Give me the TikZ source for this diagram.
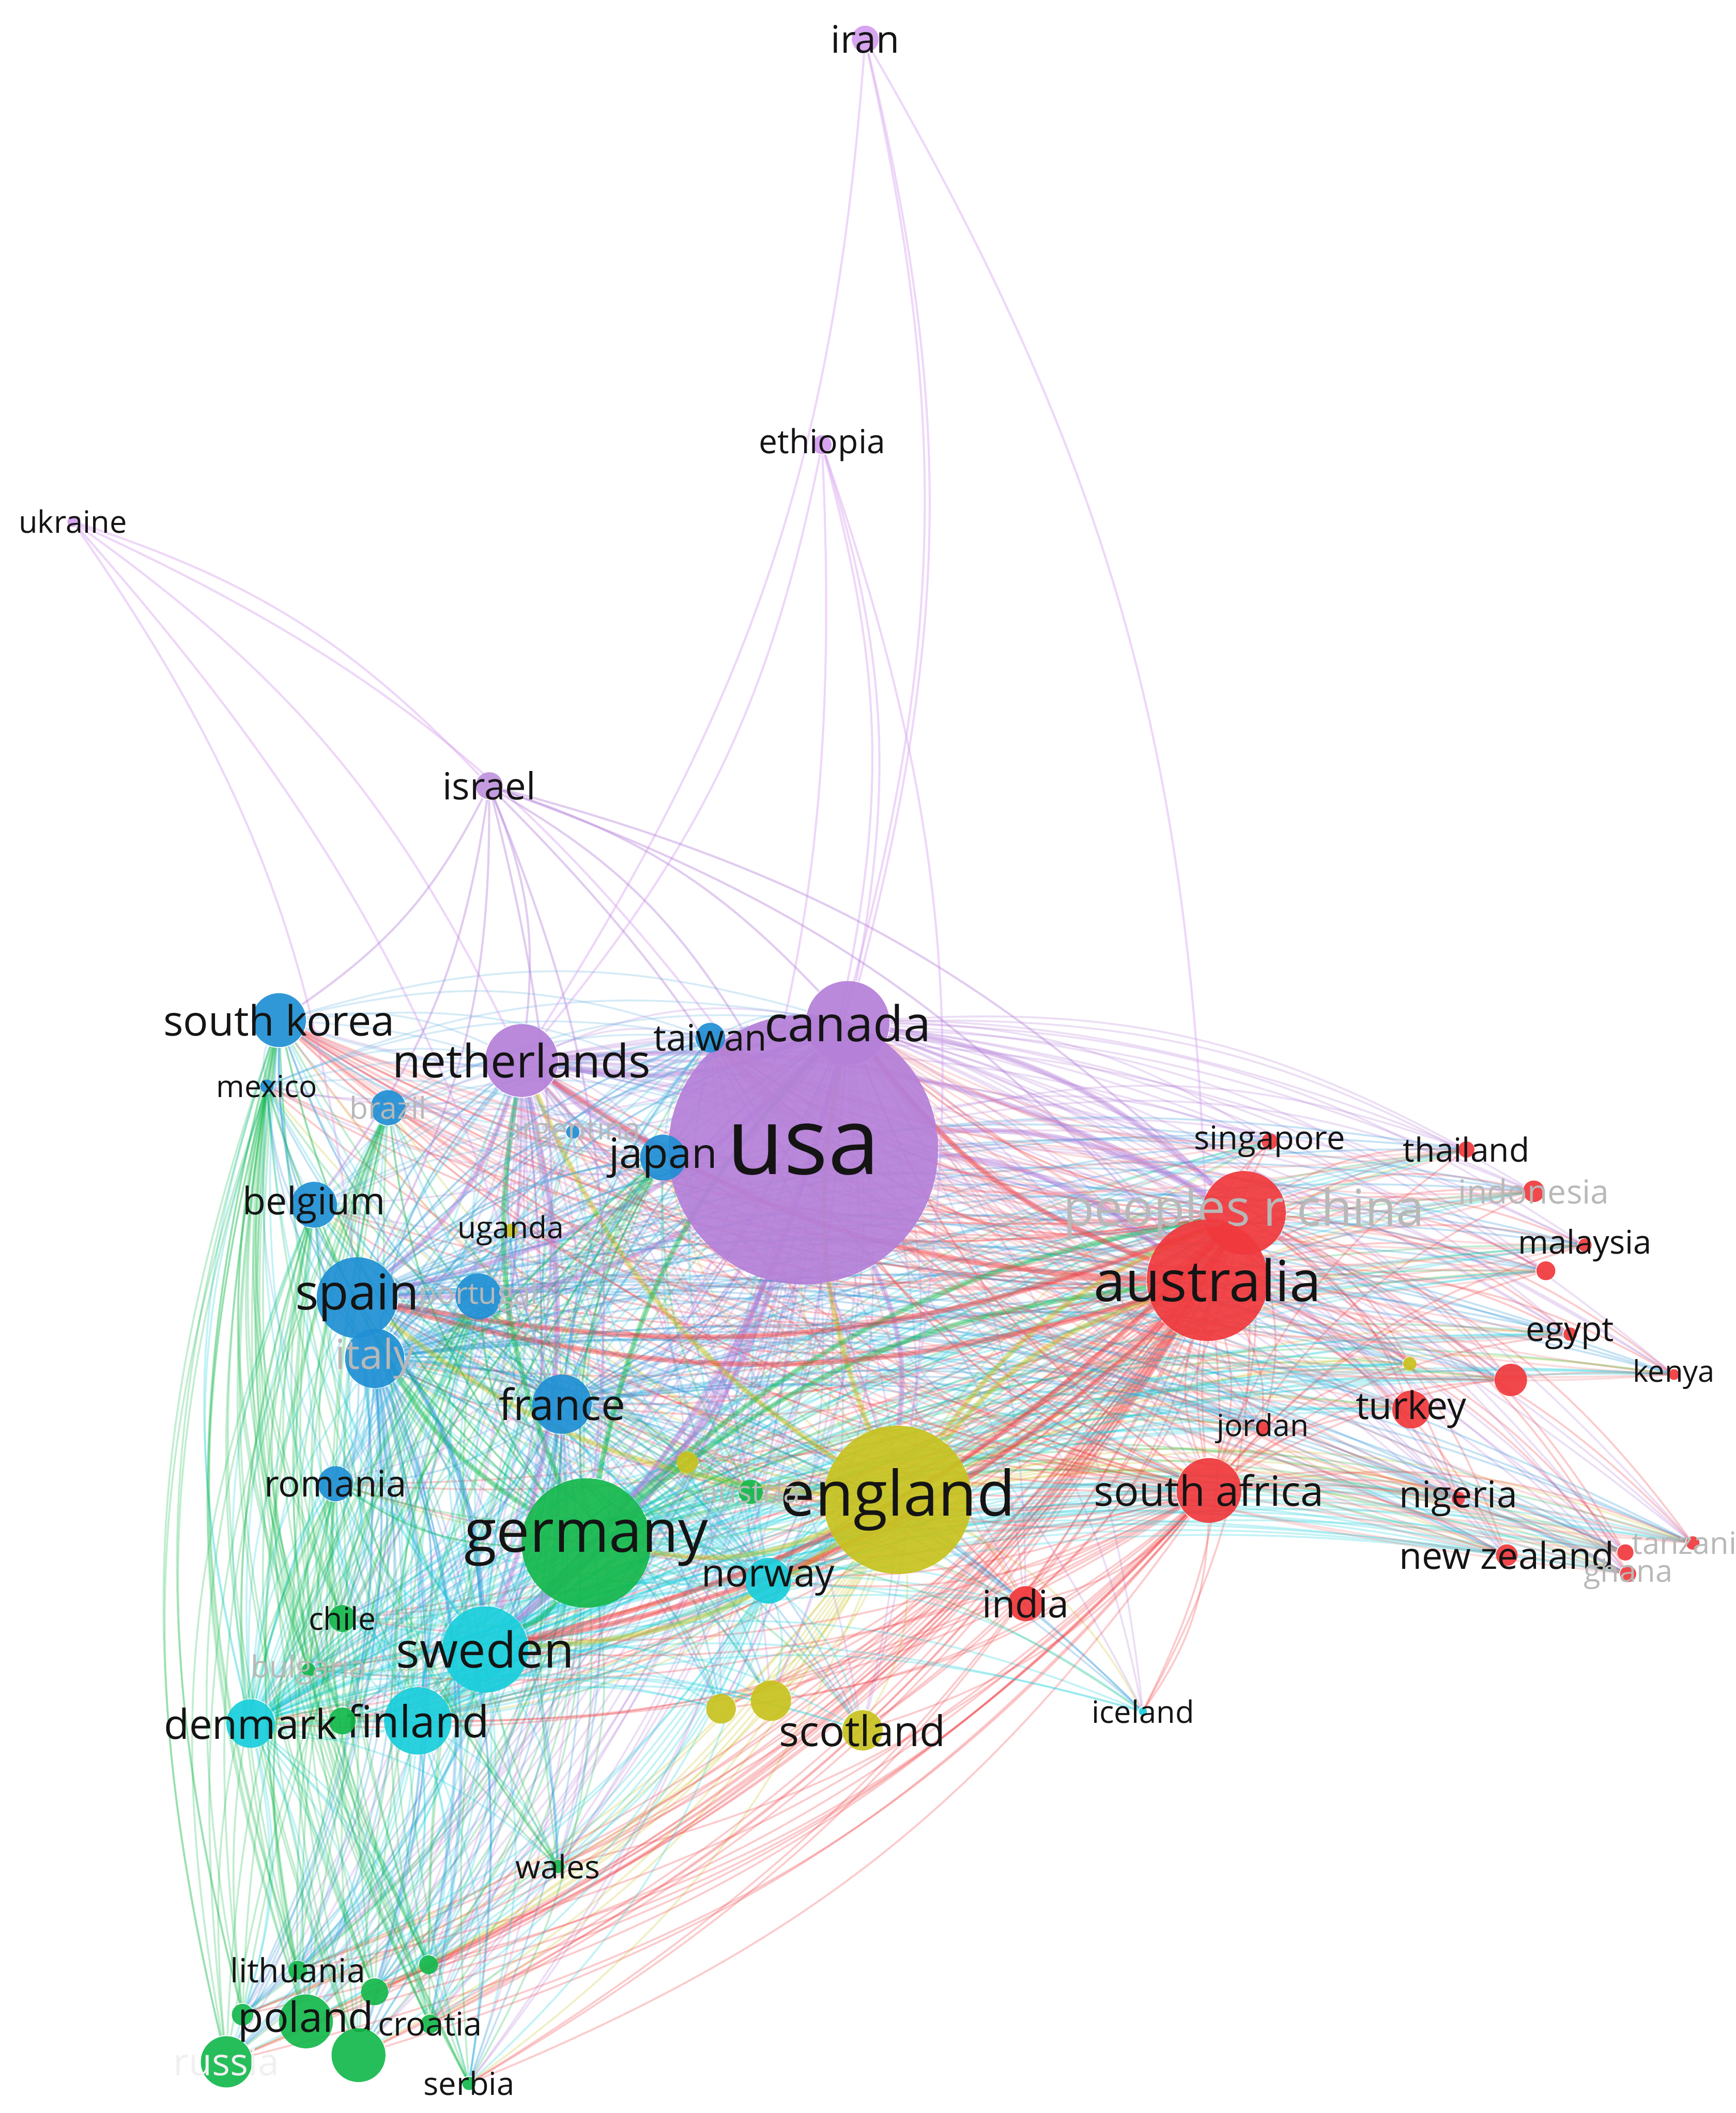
\documentclass[tikz,border=0pt]{standalone}
\usepackage{fontspec}
\setmainfont{Open Sans}

\definecolor{vred}{HTML}{F0383C}
\definecolor{vgreen}{HTML}{14B84C}
\definecolor{vblue}{HTML}{1F8FD4}
\definecolor{vyellow}{HTML}{C8C21E}
\definecolor{vpurple}{HTML}{B47FD8}
\definecolor{vlav}{HTML}{D49CEE}
\definecolor{vcyan}{HTML}{18CEDC}

\pgfdeclarelayer{aristas}
\pgfsetlayers{aristas,main}

\tikzset{
  nd/.style={circle, fill=#1, fill opacity=0.92, text opacity=1, draw=none, inner sep=0pt},
  sz/.style={minimum size=#1*0.2845pt},
  lbl/.style={font=\fontsize{#1pt}{#1pt}\selectfont, text=black!92, inner sep=0pt},
  flbl/.style={font=\fontsize{#1pt}{#1pt}\selectfont, text=black!28, inner sep=0pt},
  lk/.style={draw=#1, opacity=0.26, line width=0.4pt},
  lkg/.style={draw=#1, opacity=0.42, line width=1.1pt},
  lkp/.style={draw=#1, opacity=0.4, line width=0.45pt}
}

\begin{document}
\begin{tikzpicture}[x=0.01cm, y=-0.01cm]
  \useasboundingbox (0,0) rectangle (1288,1568);

  % nodos grandes
  \node[nd=vpurple, sz=200, label={[lbl=19.6]center:usa}] (usa) at (596,853) {};
  \node[nd=vyellow, sz=110, label={[lbl=13.2]center:england}] (england) at (666,1113) {};
  \node[nd=vgreen, sz=96, label={[lbl=12.5]center:germany}] (germany) at (435,1145) {};
  \node[nd=vred, sz=62, label={[flbl=10.7]center:peoples r china}] (china) at (923,900) {};
  \node[nd=vred, sz=90, label={[lbl=12]center:australia}] (australia) at (896,950) {};
  \node[nd=vpurple, sz=62, label={[lbl=10.4]center:canada}] (canada) at (629,759) {};
  \node[nd=vpurple, sz=54, label={[lbl=9.7]center:netherlands}] (netherlands) at (387,787) {};
  \node[nd=vcyan, sz=64, label={[lbl=10.4]center:sweden}] (sweden) at (360,1224) {};
  \node[nd=vblue, sz=60, label={[lbl=10.4]center:spain}] (spain) at (265,963) {};
  \node[nd=vcyan, sz=50, label={[lbl=9.3]center:finland}] (finland) at (310,1277) {};
  \node[nd=vred, sz=48, label={[lbl=8.8]center:south africa}] (safrica) at (897,1106) {};
  \node[nd=vblue, sz=44, label={[lbl=9.1]center:france}] (france) at (417,1042) {};
  \node[nd=vblue, sz=44, label={[flbl=8.7]center:italy}] (italy) at (278,1008) {};

  % grupo azul
  \node[nd=vblue, sz=40, label={[lbl=8.8]center:south korea}] (skorea) at (207,757) {};
  \node[nd=vblue, sz=22, label={[lbl=7.7]center:taiwan}] (taiwan) at (527,770) {};
  \node[nd=vblue, sz=10, label={[lbl=6.4]center:mexico}] (mexico) at (198,806) {};
  \node[nd=vblue, sz=26, label={[flbl=6.4]center:brazil}] (brazil) at (288,822) {};
  \node[nd=vblue, sz=10, label={[flbl=6.4]center:argentina}] (argentina) at (425,840) {};
  \node[nd=vblue, sz=34, label={[lbl=8.8]center:japan}] (japan) at (492,859) {};
  \node[nd=vblue, sz=34, label={[flbl=6.4]center:portugal}] (portugal) at (355,962) {};
  \node[nd=vblue, sz=34, label={[lbl=8]center:belgium}] (belgium) at (233,894) {};
  \node[nd=vblue, sz=26, label={[lbl=7.7]center:romania}] (romania) at (249,1101) {};

  % grupo rojo
  \node[nd=vred, sz=12, label={[lbl=6.9]center:singapore}] (singapore) at (942,847) {};
  \node[nd=vred, sz=12, label={[lbl=7]center:thailand}] (thailand) at (1088,853) {};
  \node[nd=vred, sz=16, label={[flbl=7]center:indonesia}] (indonesia) at (1138,884) {};
  \node[nd=vred, sz=14] (rA) at (1147,943) {};
  \node[nd=vred, sz=10, label={[lbl=6.9]center:malaysia}] (malaysia) at (1176,924) {};
  \node[nd=vred, sz=24] (rB) at (1121,1024) {};
  \node[nd=vred, sz=10, label={[lbl=7.2]center:egypt}] (egypt) at (1165,990) {};
  \node[nd=vred, sz=8, label={[lbl=6.3]center:kenya}] (kenya) at (1242,1020) {};
  \node[nd=vyellow, sz=10] (yA) at (1046,1012) {};
  \node[nd=vred, sz=28, label={[lbl=8]center:turkey}] (turkey) at (1047,1046) {};
  \node[nd=vred, sz=10, label={[lbl=6.4]center:jordan}] (jordan) at (937,1060) {};
  \node[nd=vred, sz=10, label={[lbl=7.8]center:nigeria}] (nigeria) at (1082,1112) {};
  \node[nd=vred, sz=16, label={[lbl=7.8]center:new zealand}] (nzealand) at (1118,1154) {};
  \node[nd=vred, sz=10, label={[flbl=6.5]center:tanzania}] (tanzania) at (1256,1145) {};
  \node[nd=vred, sz=12] (rC) at (1206,1152) {};
  \node[nd=vred, sz=12, label={[flbl=6.5]center:ghana}] (ghana) at (1208,1168) {};
  \node[nd=vred, sz=26, label={[lbl=8]center:india}] (india) at (761,1190) {};

  % grupo amarillo
  \node[nd=vyellow, sz=10, label={[lbl=6.4]center:uganda}] (uganda) at (379,913) {};
  \node[nd=vyellow, sz=16] (yB) at (510,1085) {};
  \node[nd=vyellow, sz=22] (yC) at (535,1268) {};
  \node[nd=vyellow, sz=30] (yD) at (572,1262) {};
  \node[nd=vyellow, sz=30, label={[lbl=8.9]center:scotland}] (scotland) at (640,1284) {};

  % grupo verde
  \node[nd=vgreen, sz=18, label={[flbl=6.5]center:austria}] (austria) at (557,1107) {};
  \node[nd=vgreen, sz=20, label={[lbl=6.6]center:chile}] (chile) at (254,1201) {};
  \node[nd=vgreen, sz=10, label={[flbl=6.4]center:bulgaria}] (bulgaria) at (229,1239) {};
  \node[nd=vgreen, sz=20] (gA) at (254,1277) {};
  \node[nd=vgreen, sz=10, label={[lbl=6.8]center:wales}] (wales) at (414,1385) {};
  \node[nd=vgreen, sz=14] (gB) at (318,1458) {};
  \node[nd=vgreen, sz=14, label={[lbl=7]center:lithuania}] (lithuania) at (221,1462) {};
  \node[nd=vgreen, sz=20] (gC) at (278,1478) {};
  \node[nd=vgreen, sz=16] (gD) at (180,1495) {};
  \node[nd=vgreen, sz=40, label={[lbl=8.8]center:poland}] (poland) at (227,1500) {};
  \node[nd=vgreen, sz=14, label={[lbl=6.9]center:croatia}] (croatia) at (319,1502) {};
  \node[nd=vgreen, sz=38, label={[text=black!6,font=\fontsize{8pt}{8pt}\selectfont,inner sep=0pt]center:russia}] (russia) at (168,1530) {};
  \node[nd=vgreen, sz=40] (gE) at (266,1525) {};
  \node[nd=vgreen, sz=10, label={[lbl=6.7]center:serbia}] (serbia) at (348,1546) {};

  % grupo cian
  \node[nd=vcyan, sz=34, label={[lbl=8.1]center:norway}] (norway) at (570,1173) {};
  \node[nd=vcyan, sz=36, label={[lbl=8.7]center:denmark}] (denmark) at (186,1279) {};
  \node[nd=vcyan, sz=6, label={[lbl=6.5]center:iceland}] (iceland) at (848,1270) {};

  % periferia morada
  \node[nd=vlav, sz=20, label={[lbl=8]center:iran}] (iran) at (642,29) {};
  \node[nd=vlav, sz=14, label={[lbl=7]center:ethiopia}] (ethiopia) at (610,330) {};
  \node[nd=vlav, sz=8, label={[lbl=6.5]center:ukraine}] (ukraine) at (54,387) {};
  \node[nd=vpurple!85, sz=20, label={[lbl=7.9]center:israel}] (israel) at (363,583) {};

  \def\todos{skorea,canada,taiwan,netherlands,mexico,brazil,argentina,japan,usa,china,singapore,australia,thailand,indonesia,malaysia,rA,egypt,rB,kenya,turkey,jordan,yA,nigeria,nzealand,tanzania,rC,ghana,safrica,india,iceland,england,uganda,yB,yC,yD,scotland,germany,austria,chile,bulgaria,gA,wales,lithuania,gB,gC,poland,croatia,gD,russia,gE,serbia,norway,sweden,denmark,finland,spain,portugal,italy,belgium,france,romania}
  \def\rojos{china,singapore,australia,thailand,indonesia,malaysia,rA,egypt,rB,kenya,turkey,jordan,nigeria,nzealand,tanzania,rC,ghana,safrica,india}
  \def\azules{skorea,taiwan,mexico,brazil,argentina,japan,spain,portugal,italy,belgium,france,romania}
  \def\verdes{germany,austria,chile,bulgaria,gA,wales,lithuania,gB,gC,poland,croatia,gD,russia,gE,serbia}
  \def\cianes{norway,sweden,denmark,finland,iceland}
  \def\amarillos{england,uganda,yA,yB,yC,yD,scotland}

  \begin{pgfonlayer}{aristas}
    % centros conectados con casi todos
    \foreach \h/\c in {usa/vpurple,england/vyellow,germany/vgreen,australia/vred,canada/vpurple,netherlands/vpurple,china/vred,spain/vblue,sweden/vcyan,france/vblue,italy/vblue,safrica/vred,denmark/vcyan,finland/vcyan,norway/vcyan}{
      \foreach \n in \todos{
        \ifx\h\n\else \draw[lk=\c] (\h) to[bend left=16] (\n); \fi
      }
    }
    % enlaces fuertes entre centros
    \foreach \a/\c [count=\i] in {usa/vpurple,england/vyellow,germany/vgreen,australia/vred,canada/vpurple,netherlands/vpurple,china/vred,spain/vblue,sweden/vcyan}{
      \foreach \b [count=\j] in {usa,england,germany,australia,canada,netherlands,china,spain,sweden}{
        \ifnum\j>\i \draw[lkg=\c] (\a) to[bend left=16] (\b); \fi
      }
    }
    % dentro de cada grupo
    \foreach \lista/\c in {\rojos/vred,\azules/vblue,\verdes/vgreen,\cianes/vcyan,\amarillos/vyellow}{
      \foreach \a [count=\i] in \lista{
        \foreach \b [count=\j] in \lista{
          \ifnum\j>\i \draw[lk=\c] (\a) to[bend left=16] (\b); \fi
        }
      }
    }
    % rojos hacia el norte
    \foreach \a in \rojos{
      \foreach \b in {skorea,taiwan,canada,usa}{
        \draw[lk=vred!70] (\a) to[bend left=16] (\b);
      }
    }
    % azules hacia morados
    \foreach \a in \azules{
      \foreach \b in {skorea,taiwan,japan,netherlands,canada,usa}{
        \ifx\a\b\else \draw[lk=vblue!70] (\a) to[bend left=16] (\b); \fi
      }
    }
    % verdes hacia azules
    \foreach \a in \verdes{
      \foreach \b in {skorea,mexico,brazil,japan,portugal,belgium,romania}{
        \draw[lk=vgreen] (\a) to[bend left=16] (\b);
      }
    }
    % periferia
    \foreach \n in {usa,canada,netherlands,australia}
      \draw[lkp=vlav] (iran) to[bend left=14] (\n);
    \foreach \n in {usa,canada,netherlands,england,germany}
      \draw[lkp=vlav] (ethiopia) to[bend left=14] (\n);
    \foreach \n in {usa,netherlands,germany,spain,israel}
      \draw[lkp=vlav] (ukraine) to[bend left=14] (\n);
    \foreach \n in {usa,canada,netherlands,skorea,spain,germany,england,china,australia,sweden,belgium}
      \draw[lkp=vpurple] (israel) to[bend left=14] (\n);
  \end{pgfonlayer}
\end{tikzpicture}
\end{document}
